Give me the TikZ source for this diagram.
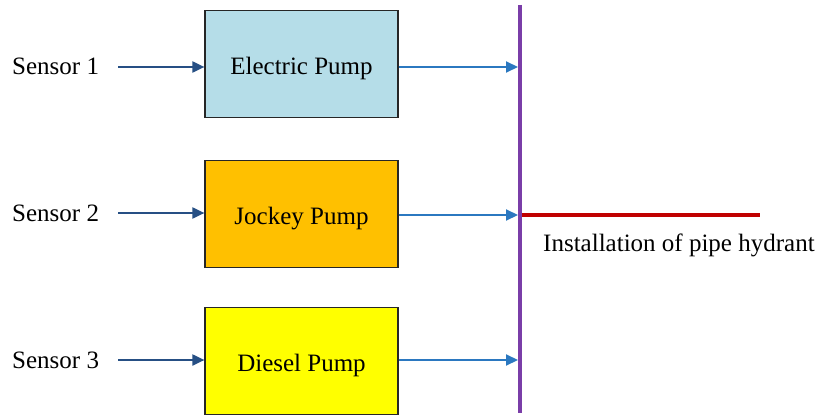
\documentclass[tikz,border=0pt]{standalone}
\usepackage{fontspec}
\setmainfont{Liberation Serif}
\usetikzlibrary{arrows.meta}
\definecolor{boxblue}{HTML}{B5DDE8}
\definecolor{boxorange}{HTML}{FFC000}
\definecolor{boxyellow}{HTML}{FFFF00}
\definecolor{inarrow}{HTML}{264F84}
\definecolor{outarrow}{HTML}{2B78C0}
\definecolor{busline}{HTML}{7A3DA8}
\definecolor{pipeline}{HTML}{C00000}
\newcommand{\boxtxt}[1]{\raisebox{-4.5pt}[\height][\depth]{#1}}
\tikzset{
  pumpbox/.style={draw=black!85, line width=1.2pt, minimum width=193pt, minimum height=107pt, inner sep=0pt, font=\fontsize{25}{28}\selectfont},
  sensorlbl/.style={anchor=base west, inner sep=0pt, font=\fontsize{25}{28}\selectfont},
  inarr/.style={draw=inarrow, line width=2pt, -{Triangle[length=12pt,width=11pt]}},
  outarr/.style={draw=outarrow, line width=2pt, -{Triangle[length=12pt,width=11pt]}}
}
\begin{document}
\begin{tikzpicture}[x=1pt,y=-1pt]
\useasboundingbox (0,0) rectangle (818,417);
\fill[white] (0,0) rectangle (818,417);
% pumps
\node[pumpbox, fill=boxblue] (ep) at (301.5,64) {\boxtxt{Electric Pump}};
\node[pumpbox, fill=boxorange] (jp) at (301.5,214) {\boxtxt{Jockey Pump}};
\node[pumpbox, fill=boxyellow] (dp) at (301.5,361) {\boxtxt{Diesel Pump}};
% sensors
\node[sensorlbl] (s1) at (12,75) {Sensor 1};
\node[sensorlbl] (s2) at (12,221) {Sensor 2};
\node[sensorlbl] (s3) at (12,368) {Sensor 3};
\coordinate (s1e) at (118,67);
\coordinate (s2e) at (118,213);
\coordinate (s3e) at (118,360);
% bus
\coordinate (bt) at (520,5);
\coordinate (bb) at (520,413);
\draw[busline, line width=4.5pt] (bt) -- (bb);
\coordinate (b1) at (518,67);
\coordinate (b2) at (518,215);
\coordinate (b3) at (518,360);
% pipe
\coordinate (p0) at (522,215);
\coordinate (p1) at (760,215);
\draw[pipeline, line width=4.5pt] (p0) -- (p1);
\node[sensorlbl] (hyd) at (543,251) {Installation of pipe hydrant};
% arrows
\draw[inarr] (s1e) -- (ep.west |- s1e);
\draw[inarr] (s2e) -- (jp.west |- s2e);
\draw[inarr] (s3e) -- (dp.west |- s3e);
\draw[outarr] (ep.east |- b1) -- (b1);
\draw[outarr] (jp.east |- b2) -- (b2);
\draw[outarr] (dp.east |- b3) -- (b3);
\end{tikzpicture}
\end{document}
